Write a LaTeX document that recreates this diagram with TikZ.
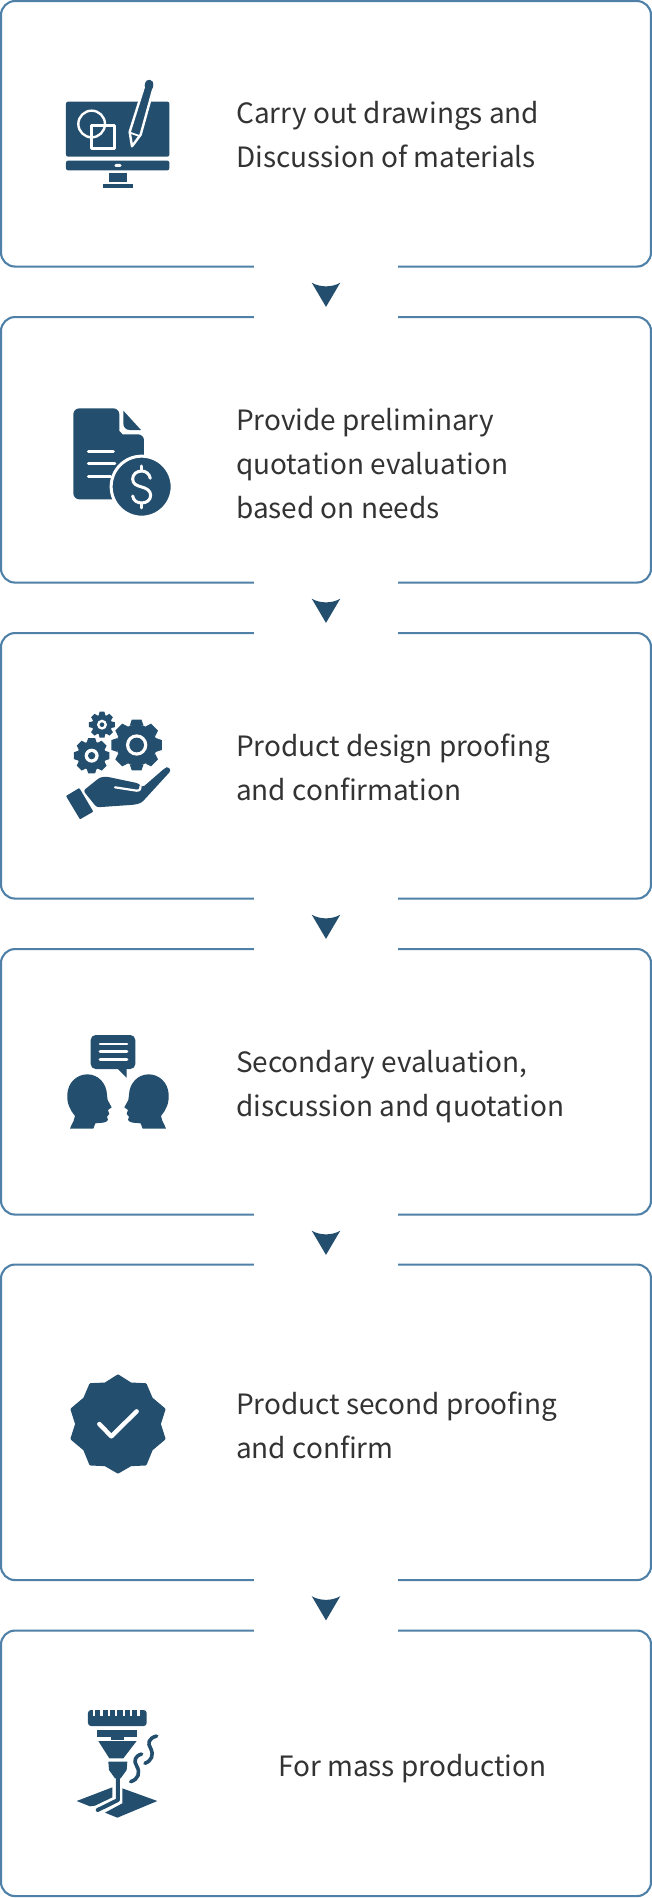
\documentclass[tikz,border=0pt]{standalone}
\usepackage{fontspec}
\newfontfamily\cardfont{Noto Sans CJK TC}
\definecolor{icondark}{HTML}{234E6D}
\definecolor{boxedge}{HTML}{4F81A8}
\definecolor{cardtext}{HTML}{333333}
\tikzset{
  stepcard/.style={draw=boxedge,line width=2.1,rounded corners=14,minimum width=650,inner sep=0},
  steptext/.style={anchor=west,align=left,inner sep=0,text=cardtext,font=\cardfont\fontsize{27.95}{44}\selectfont},
  iconfill/.style={fill=icondark,draw=none},
  iconcut/.style={draw=white,line width=2.4,line cap=round,line join=round},
  iconstem/.style={draw=icondark,line width=4,line cap=round,line join=round},
  downmark/.pic={
    \fill[white] (-72,3) rectangle (72,-53);
    \fill[icondark] (-14.3,-15) .. controls (-6,-20) and (6,-20) .. (14.3,-15) -- (0,-39.3) -- cycle;
  }
}
\newcommand{\cogshape}[3]{%
  \fill[iconfill] (#1) circle (#2);
  \foreach \a in {0,45,...,315}
    \fill[iconfill,shift={(#1)},rotate=\a] ({#2-3},{-0.34*#2}) -- ({#3},{-0.24*#2}) -- ({#3},{0.24*#2}) -- ({#2-3},{0.34*#2}) -- cycle;
}
\newcommand{\headshape}{(90,326) .. controls (98,305) and (105,300) .. (105,288) .. controls (90,270) and (80,250) .. (82,222) .. controls (84,188) and (110,163) .. (142,163) .. controls (175,163) and (200,190) .. (201,225) -- (203,240) -- (215,262) -- (204,270) -- (208,282) -- (201,290) -- (204,300) .. controls (200,310) and (180,308) .. (166,310) -- (160,326) -- cycle}
\begin{document}
\begin{tikzpicture}[x=1pt,y=1pt,yscale=-1,xscale=1]
\useasboundingbox (0,0) rectangle (652,1898);

%Step cards
\node [stepcard,minimum height=265.5] (card1) at (326,133.8) {};
\node [stepcard,minimum height=265.5] (card2) at (326,449.8) {};
\node [stepcard,minimum height=265.5] (card3) at (326,765.8) {};
\node [stepcard,minimum height=265.5] (card4) at (326,1081.8) {};
\node [stepcard,minimum height=315.5] (card5) at (326,1422.3) {};
\node [stepcard,minimum height=265.5] (card6) at (326,1763.3) {};

%Gaps and arrow marks
\path (card1.south) pic {downmark};
\path (card2.south) pic {downmark};
\path (card3.south) pic {downmark};
\path (card4.south) pic {downmark};
\path (card5.south) pic {downmark};

%Icon: monitor and pen
\begin{scope}[shift={(40,60)},scale=0.3333]
\fill [iconfill,rounded corners=2] (78,125) rectangle (388,290);
\fill [iconfill,rounded corners=2] (78,302) rectangle (388,331);
\fill [white,rounded corners=1.5] (223,312) rectangle (245,321);
\fill [iconfill] (208,340) rectangle (260,365);
\fill [iconfill] (190,373) rectangle (278,383);
\draw [iconcut] (155,192) circle (40);
\draw [iconcut] (154,196) rectangle (224,266);
\draw [iconcut,fill=icondark] (315,70) -- (343,76) -- (302,224) -- (276,259) -- (269,216) -- cycle;
\fill [icondark,rounded corners=3.5] (312,86) -- (318,58) -- (341,62) -- (338,92) -- cycle;
\draw [iconcut,line width=1.8] (270,218) -- (298,228);
\end{scope}

%Icon: sheet and dollar
\begin{scope}[shift={(40,390)},scale=0.3333]
\fill [iconfill,rounded corners=6] (238,55) -- (100,55) -- (100,328) -- (312,328) -- (312,133) -- (265,133) .. controls (248,133) and (238,122) .. (238,105) -- cycle;
\fill [iconfill] (250,62) -- (303,120) -- (270,120) .. controls (258,120) and (250,112) .. (250,100) -- cycle;
\draw [iconcut,fill=icondark,line width=3] (305,290) circle (91.5);
\draw [iconcut,line width=3] (145,185) -- (220,185);
\draw [iconcut,line width=3] (145,222) -- (225,222);
\draw [iconcut,line width=3] (145,260) -- (212,260);
\draw [iconcut,line width=3] (331,265) .. controls (328,250) and (316,243) .. (305,243) .. controls (290,243) and (278,253) .. (278,267) .. controls (278,283) and (292,287) .. (305,291) .. controls (320,295) and (332,302) .. (332,316) .. controls (332,330) and (320,339) .. (305,339) .. controls (292,339) and (280,332) .. (278,318);
\draw [iconcut,line width=3] (305,228) -- (305,243);
\draw [iconcut,line width=3] (305,339) -- (305,354);
\end{scope}

%Icon: cogs over a hand
\begin{scope}[shift={(40,700)},scale=0.3333]
\cogshape{290,135}{61}{76}
\fill [white] (290,135) circle (32);
\fill [iconfill] (290,135) circle (22);
\cogshape{155,167}{43}{53}
\fill [white] (155,167) circle (21);
\fill [iconfill] (155,167) circle (11);
\cogshape{186,74}{30}{39}
\fill [white] (186,74) circle (15);
\fill [iconfill] (186,74) circle (7);
\fill [iconfill,rounded corners=0.8] (78,288) -- (118,264) -- (160,335) -- (120,358) -- cycle;
\fill [iconfill,rounded corners=2.5] (130,272) -- (180,232) -- (200,230) -- (295,250) -- (308,262) -- (375,204) -- (385,200) -- (393,212) -- (305,308) -- (285,314) -- (170,322) -- cycle;
\draw [iconcut,line width=2.2] (225,262) -- (290,272) .. controls (300,272) and (303,266) .. (302,258);
\end{scope}

%Icon: two heads and a bubble
\begin{scope}[shift={(40,1020)},scale=0.3333]
\fill [iconfill,rounded corners=5] (152,45) rectangle (286,147);
\fill [iconfill] (232,145) -- (260,173) -- (260,145) -- cycle;
\draw [iconcut,line width=2.6] (180,72) -- (261,72);
\draw [iconcut,line width=2.6] (180,95) -- (261,95);
\draw [iconcut,line width=2.6] (180,118) -- (261,118);
\fill [iconfill] \headshape;
\begin{scope}[shift={(468,0)},xscale=-1]
\fill [iconfill] \headshape;
\end{scope}
\end{scope}

%Icon: badge with check
\begin{scope}[shift={(40,1360)},scale=0.3333]
\draw [iconfill,draw=icondark,line width=3,line join=round] (234,48) -- (272,72) -- (316,74) -- (334,116) -- (372,148) -- (358,192) -- (372,236) -- (334,268) -- (316,312) -- (272,314) -- (234,336) -- (196,314) -- (152,312) -- (134,268) -- (96,236) -- (110,192) -- (96,148) -- (134,116) -- (152,74) -- (196,72) -- cycle;
\draw [iconcut,line width=4.4] (178,192) -- (214,229) -- (290,154);
\end{scope}

%Icon: laser head
\begin{scope}[shift={(40,1690)},scale=0.3333]
\fill [iconfill,rounded corners=3] (144,60) rectangle (320,108);
\foreach \x in {163,185,207,229,252,274,296}
  \fill [white] (\x-3.5,55) rectangle (\x+3.5,79);
\fill [iconfill] (171,120) rectangle (292,142);
\fill [iconfill] (212,142) rectangle (252,149);
\fill [iconfill] (175,153) -- (290,153) -- (250,205) -- (208,205) -- cycle;
\fill [iconfill] (205,215) -- (262,215) -- (260,240) -- (242,265) -- (225,265) -- (207,240) -- cycle;
\fill [iconfill] (110,333) -- (217,292) -- (217,322) -- (165,347) -- (150,349) -- cycle;
\fill [iconfill] (247,295) -- (352,333) -- (232,383) -- (195,368) -- (247,340) -- cycle;
\draw [iconstem] (234,260) -- (234,330) -- (173,360);
\draw [iconstem,line width=3.6] (350,138) .. controls (325,145) and (322,160) .. (332,175) .. controls (342,195) and (335,212) .. (315,220);
\draw [iconstem,line width=3.6] (305,192) .. controls (285,198) and (280,212) .. (290,228) .. controls (302,248) and (295,268) .. (272,275);
\end{scope}

% Text Node
\node [steptext] (text1) at (236,135) {Carry out drawings and\\Discussion of materials};
% Text Node
\node [steptext] (text2) at (236,463.6) {Provide preliminary\\quotation evaluation\\based on needs};
% Text Node
\node [steptext] (text3) at (236,767.4) {Product design proofing\\and confirmation};
% Text Node
\node [steptext] (text4) at (236,1086.4) {Secondary evaluation,\\discussion and quotation};
% Text Node
\node [steptext] (text5) at (236,1425) {Product second proofing\\and confirm};
% Text Node
\node [steptext] (text6) at (278,1768.2) {For mass production};

\end{tikzpicture}
\end{document}
